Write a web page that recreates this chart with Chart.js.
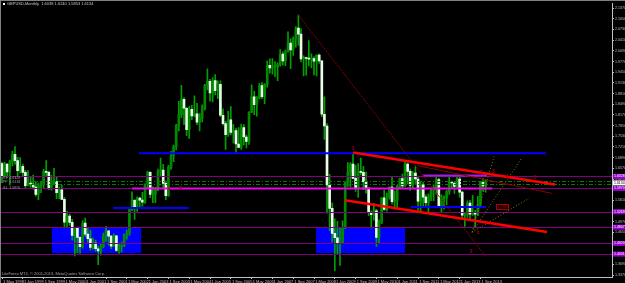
<!DOCTYPE html>
<html>
<head>
<meta charset="utf-8">
<script src="https://cdn.jsdelivr.net/npm/chart.js@4"></script>
<style>
  html, body { margin: 0; padding: 0; background: #000; }
  canvas { display: block; background: #000; }
</style>
</head>
<body>
<canvas id="myChart" width="625" height="283"></canvas>
<script>
// GBPUSD monthly, May 1998 .. Nov 2013 (month index 0 = May 1998)
const open = [
  1.6710,1.6330,1.6700,1.6460,1.6770,1.6990,1.6800,1.6500,
  1.6630,1.6450,1.6050,1.6120,1.6100,1.6010,1.5790,1.6050,1.6070,1.6470,1.6450,1.5980,
  1.6150,1.6170,1.5840,1.5930,1.5640,1.4960,1.5140,1.4950,1.4560,1.4780,1.4500,1.4220,
  1.4930,1.4600,1.4460,1.4200,1.4330,1.4160,1.4100,1.4220,1.4550,1.4700,1.4540,1.4240,
  1.4550,1.4110,1.4230,1.4250,1.4570,1.4620,1.5330,1.5610,1.5410,1.5680,1.5620,1.5560,
  1.6100,1.6450,1.5790,1.5800,1.5960,1.6470,1.6520,1.6120,1.5750,1.6600,1.6960,1.7220,
  1.7860,1.8180,1.8640,1.8370,1.7730,1.8340,1.8140,1.8200,1.7950,1.8080,1.8350,1.9060,
  1.9180,1.8830,1.9200,1.8900,1.9090,1.8160,1.7910,1.7580,1.8020,1.7650,1.7700,1.7300,
  1.7200,1.7790,1.7510,1.7380,1.8250,1.8710,1.8480,1.8680,1.9050,1.8720,1.9090,1.9660,
  1.9580,1.9620,1.9620,1.9680,1.9990,1.9790,2.0070,2.0320,2.0120,2.0440,2.0770,2.0590,
  1.9850,1.9880,1.9860,1.9840,1.9860,1.9780,1.9960,1.9790,1.8190,1.7840,1.6070,1.5370,
  1.4620,1.4490,1.4310,1.4340,1.4800,1.6150,1.6460,1.6700,1.6270,1.5980,1.6470,1.6450,
  1.6170,1.5980,1.5240,1.5180,1.5300,1.4500,1.4950,1.5690,1.5340,1.5710,1.6010,1.5570,
  1.5610,1.6030,1.6260,1.6040,1.6700,1.6480,1.6060,1.6430,1.6250,1.5590,1.6080,1.5710,
  1.5540,1.5730,1.5920,1.5990,1.6230,1.5420,1.5680,1.5680,1.5870,1.6150,1.6130,1.6030,
  1.6250,1.5860,1.5170,1.5190,1.5530,1.5200,1.5210,1.5200,1.5490,1.6180,1.6038
];
const high = [
  1.6760,1.6750,1.6710,1.6820,1.7080,1.7225,1.6900,1.6890,
  1.6700,1.6510,1.6500,1.6300,1.6370,1.6170,1.6130,1.6150,1.6540,1.6800,1.6490,1.6360,
  1.6570,1.6330,1.6020,1.6060,1.5700,1.5280,1.5200,1.5040,1.4780,1.4810,1.4520,1.5000,
  1.5080,1.4790,1.4720,1.4480,1.4420,1.4240,1.4310,1.4630,1.4830,1.4700,1.4560,1.4600,
  1.4560,1.4330,1.4360,1.4610,1.4720,1.5380,1.5870,1.5640,1.5720,1.5710,1.5850,1.6110,
  1.6480,1.6470,1.6020,1.6000,1.6550,1.6880,1.6690,1.6190,1.6660,1.7080,1.7270,1.7890,
  1.8580,1.9060,1.8690,1.8400,1.8430,1.8460,1.8740,1.8520,1.8210,1.8470,1.9090,1.9550,
  1.9240,1.9280,1.9380,1.9190,1.9190,1.8350,1.7980,1.8280,1.8420,1.7890,1.7780,1.7790,
  1.7900,1.7880,1.7570,1.8270,1.9070,1.8880,1.8720,1.9120,1.9140,1.9110,1.9790,1.9850,
  1.9860,1.9770,1.9730,2.0130,2.0060,2.0110,2.0660,2.0460,2.0510,2.0820,2.1161,2.0760,
  1.9940,1.9900,2.0400,2.0000,1.9920,1.9970,2.0000,1.9800,1.8710,1.7910,1.6390,1.5540,
  1.5060,1.4980,1.4780,1.5000,1.6170,1.6740,1.6740,1.7040,1.6670,1.6710,1.6880,1.6630,
  1.6460,1.5990,1.5300,1.5520,1.5340,1.5030,1.5690,1.5920,1.5830,1.6020,1.6300,1.5900,
  1.6060,1.6280,1.6400,1.6750,1.6740,1.6550,1.6470,1.6620,1.6340,1.6140,1.6160,1.5780,
  1.5810,1.5950,1.6060,1.6300,1.6280,1.5780,1.5750,1.5910,1.6310,1.6190,1.6130,1.6310,
  1.6380,1.5890,1.5240,1.5600,1.5610,1.5760,1.5310,1.5730,1.6180,1.6260,1.6240
];
const low = [
  1.6140,1.6320,1.6290,1.6070,1.6640,1.6690,1.6350,1.6430,
  1.6350,1.5990,1.6040,1.6000,1.5950,1.5740,1.5630,1.5840,1.5990,1.6350,1.5930,1.5920,
  1.6080,1.5660,1.5660,1.5640,1.4810,1.4790,1.4860,1.4420,1.3950,1.4040,1.4020,1.4180,
  1.4530,1.4350,1.4120,1.4150,1.4090,1.3685,1.3970,1.4190,1.4380,1.4270,1.4160,1.4230,
  1.4080,1.4020,1.4060,1.4220,1.4450,1.4560,1.5300,1.5040,1.5280,1.5360,1.5440,1.5520,
  1.5960,1.5690,1.5540,1.5540,1.5900,1.6350,1.5990,1.5630,1.5730,1.6540,1.6770,1.7120,
  1.7690,1.8090,1.7880,1.7550,1.7470,1.8030,1.8110,1.7880,1.7690,1.7960,1.8320,1.8920,
  1.8580,1.8560,1.8770,1.8660,1.8120,1.7860,1.7140,1.7530,1.7570,1.7330,1.7050,1.7180,
  1.7140,1.7270,1.7180,1.7290,1.8240,1.8180,1.8130,1.8650,1.8660,1.8510,1.9000,1.9420,
  1.9390,1.9320,1.9200,1.9630,1.9660,1.9650,2.0050,1.9560,1.9950,2.0200,2.0250,1.9760,
  1.9340,1.9360,1.9640,1.9580,1.9370,1.9340,1.9710,1.8120,1.7440,1.5230,1.4700,1.4360,
  1.3503,1.3990,1.3660,1.4330,1.4760,1.6030,1.6010,1.6260,1.5880,1.5700,1.6370,1.5930,
  1.5830,1.5150,1.4780,1.5020,1.4230,1.4330,1.4910,1.5310,1.5290,1.5650,1.5500,1.5350,
  1.5350,1.5960,1.5990,1.6030,1.6100,1.5910,1.5990,1.6120,1.5320,1.5270,1.5420,1.5410,
  1.5240,1.5600,1.5600,1.5800,1.5400,1.5270,1.5350,1.5480,1.5790,1.5970,1.5820,1.6000,
  1.5710,1.5090,1.4830,1.5100,1.5010,1.5160,1.4810,1.5150,1.5430,1.5890,1.5853
];
const close = [
  1.6330,1.6700,1.6460,1.6770,1.6990,1.6800,1.6500,1.6630,
  1.6450,1.6050,1.6120,1.6100,1.6010,1.5790,1.6050,1.6070,1.6470,1.6450,1.5980,1.6150,
  1.6170,1.5840,1.5930,1.5640,1.4960,1.5140,1.4950,1.4560,1.4780,1.4500,1.4220,1.4930,
  1.4600,1.4460,1.4200,1.4330,1.4160,1.4100,1.4220,1.4550,1.4700,1.4540,1.4240,1.4550,
  1.4110,1.4230,1.4250,1.4570,1.4620,1.5330,1.5610,1.5410,1.5680,1.5620,1.5560,1.6100,
  1.6450,1.5790,1.5800,1.5960,1.6470,1.6520,1.6120,1.5750,1.6600,1.6960,1.7220,1.7860,
  1.8180,1.8640,1.8370,1.7730,1.8340,1.8140,1.8200,1.7950,1.8080,1.8350,1.9060,1.9180,
  1.8830,1.9200,1.8900,1.9090,1.8160,1.7910,1.7580,1.8020,1.7650,1.7700,1.7300,1.7200,
  1.7790,1.7510,1.7380,1.8250,1.8710,1.8480,1.8680,1.9050,1.8720,1.9090,1.9660,1.9580,
  1.9620,1.9620,1.9680,1.9990,1.9790,2.0070,2.0320,2.0120,2.0440,2.0770,2.0590,1.9850,
  1.9880,1.9860,1.9840,1.9860,1.9780,1.9960,1.9790,1.8190,1.7840,1.6070,1.5370,1.4620,
  1.4490,1.4310,1.4340,1.4800,1.6150,1.6460,1.6700,1.6270,1.5980,1.6470,1.6450,1.6170,
  1.5980,1.5240,1.5180,1.5300,1.4500,1.4950,1.5690,1.5340,1.5710,1.6010,1.5570,1.5610,
  1.6030,1.6260,1.6040,1.6700,1.6480,1.6060,1.6430,1.6250,1.5590,1.6080,1.5710,1.5540,
  1.5730,1.5920,1.5990,1.6230,1.5420,1.5680,1.5680,1.5870,1.6150,1.6130,1.6030,1.6250,
  1.5860,1.5170,1.5190,1.5530,1.5200,1.5210,1.5200,1.5490,1.6180,1.6040,1.6134
];

// axis ticks
const xTickIdx = [0,8,16,24,32,40,48,56,64,72,80,88,96,104,112,120,128,136,144,152,160,168,176,184];
const xTickLabels = ['1 May 1998','1 Jan 1999','1 Sep 1999','1 May 2000','1 Jan 2001','1 Sep 2001',
  '1 May 2002','1 Jan 2003','1 Sep 2003','1 May 2004','1 Jan 2005','1 Sep 2005','1 May 2006',
  '1 Jan 2007','1 Sep 2007','1 May 2008','1 Jan 2009','1 Sep 2009','1 May 2010','1 Jan 2011',
  '1 Sep 2011','1 May 2012','1 Jan 2013','1 Sep 2013'];
const yTicks = [2.1370,2.1050,2.0730,2.0410,2.0090,1.9770,1.9450,1.9130,1.8810,1.8490,1.8170,
  1.7850,1.7530,1.7210,1.6890,1.6570,1.6250,1.5930,1.5610,1.5290,1.4970,1.4650,1.4330,1.4010,1.3690,1.3370];

// drawn objects (price levels and trend lines)
const purpleLevels = [1.6328, 1.5970, 1.5269, 1.4807, 1.4320, 1.4001];
const greenLevels = [1.6194, 1.6089];
const lastPrice = 1.6134;
const magentaLine = [50, 188.5, 1.5970];
const violetLine = [162, 186.5, 1.6358];
const blueLines = [[52.7, 209.2, 1.7024], [42.7, 71.9, 1.5382], [157.3, 186.2, 1.5412]];
const blueBoxes = [[19.2, 53.5, 1.4807, 1.4031], [120.8, 155, 1.4807, 1.4031]];
const redChannel = [[135, 1.7044, 212.7, 1.6089], [131.9, 1.5612, 209.6, 1.4666]];
const darkRedLines = [[114, 2.1161, 186.2, 1.3912, true], [159.6, 1.6656, 211.5, 1.5821, false]];
const fanOrigin = [180.8, 1.4657];
const fanEnds = [[189.2, 1.6925], [200, 1.6895], [202.7, 1.5672]];
const waveMarks = [[135, 1.716, '1'], [184.3, 1.6430, '3'], [189, 1.6460, '3'], [194.3, 1.6310, '4'],
  [205, 1.6290, '5'], [183.1, 1.4657, 'c'], [180.4, 1.4070, '2'], [64.2, 1.5960, 'a'], [68.8, 1.5990, 'b']];
const boxNote = [190, 1.5412, '1.5382'];
const leftNotes = [[1.6270, 'R1  1.6328'], [1.6160, 'PP  1.6134'], [1.5990, 'S1  1.5970']];

const bull = close.map((c, i) => c >= open[i]);
const candleIdx = close.map((c, i) => i);

const overlay = {
  id: 'overlay',
  beforeDatasetsDraw(chart) {
    const {ctx, chartArea: a, scales: {x, y}} = chart;
    ctx.save();
    ctx.beginPath(); ctx.rect(a.left, a.top, a.right - a.left, a.bottom - a.top); ctx.clip();
    ctx.fillStyle = '#0000ff';
    blueBoxes.forEach(b => {
      const x1 = x.getPixelForValue(b[0]), x2 = x.getPixelForValue(b[1]);
      const y1 = y.getPixelForValue(b[2]), y2 = y.getPixelForValue(b[3]);
      ctx.fillRect(x1, y1, x2 - x1, y2 - y1);
    });
    ctx.restore();
  },
  afterDatasetsDraw(chart) {
    const {ctx, chartArea: a, scales: {x, y}} = chart;
    const seg = (x1, v1, x2, v2) => {
      ctx.beginPath();
      ctx.moveTo(x.getPixelForValue(x1), y.getPixelForValue(v1));
      ctx.lineTo(x.getPixelForValue(x2), y.getPixelForValue(v2));
      ctx.stroke();
    };
    ctx.save();
    ctx.beginPath(); ctx.rect(a.left, a.top, a.right - a.left, a.bottom - a.top); ctx.clip();

    // horizontal levels
    ctx.strokeStyle = '#800080'; ctx.lineWidth = 1;
    purpleLevels.forEach(v => { const py = Math.round(y.getPixelForValue(v)) + 0.5;
      ctx.beginPath(); ctx.moveTo(a.left, py); ctx.lineTo(a.right, py); ctx.stroke(); });
    ctx.strokeStyle = '#008000'; ctx.setLineDash([4, 2, 1, 2]);
    greenLevels.forEach(v => { const py = Math.round(y.getPixelForValue(v)) + 0.5;
      ctx.beginPath(); ctx.moveTo(a.left + 30, py); ctx.lineTo(a.right, py); ctx.stroke(); });
    ctx.setLineDash([]);

    ctx.strokeStyle = '#ee00ee'; ctx.lineWidth = 2;
    seg(magentaLine[0], magentaLine[2], magentaLine[1], magentaLine[2]);
    ctx.strokeStyle = '#a020e0';
    seg(violetLine[0], violetLine[2], violetLine[1], violetLine[2]);
    ctx.strokeStyle = '#0000ff';
    blueLines.forEach(l => seg(l[0], l[2], l[1], l[2]));

    // trend lines
    ctx.strokeStyle = '#8b0000'; ctx.lineWidth = 1;
    darkRedLines.forEach(l => { ctx.setLineDash(l[4] ? [2, 1] : []); seg(l[0], l[1], l[2], l[3]); });
    ctx.setLineDash([1, 2]); ctx.strokeStyle = '#808000';
    fanEnds.forEach(e => seg(fanOrigin[0], fanOrigin[1], e[0], e[1]));
    ctx.setLineDash([]);
    ctx.strokeStyle = '#ff0000'; ctx.lineWidth = 2.5;
    redChannel.forEach(l => seg(l[0], l[1], l[2], l[3]));

    // wave marks
    ctx.fillStyle = '#b00000'; ctx.font = 'bold 5px "Liberation Sans"';
    ctx.textAlign = 'center'; ctx.textBaseline = 'middle';
    waveMarks.forEach(m => ctx.fillText(m[2], x.getPixelForValue(m[0]), y.getPixelForValue(m[1])));
    const bx = x.getPixelForValue(boxNote[0]), by = y.getPixelForValue(boxNote[1]);
    ctx.strokeStyle = '#b00000'; ctx.lineWidth = 1;
    ctx.strokeRect(Math.round(bx) + 0.5, Math.round(by) - 2.5, 12, 5);
    ctx.font = '3.5px "Liberation Sans"'; ctx.textAlign = 'left';
    ctx.fillText(boxNote[2], bx + 1.5, by);

    // left notes
    ctx.fillStyle = '#a0a0a0'; ctx.font = '3.5px "Liberation Sans"';
    leftNotes.forEach(n => ctx.fillText(n[1], a.left + 2, y.getPixelForValue(n[0])));
    ctx.restore();
  },
  afterDraw(chart) {
    const {ctx, chartArea: a, scales: {y}} = chart;
    ctx.save();
    // frame
    ctx.fillStyle = '#808080';
    ctx.fillRect(0, 0, chart.width, 1);
    ctx.fillRect(0, 0, 1, chart.height);
    // price boxes on the right axis
    ctx.font = '3.5px "Liberation Sans"'; ctx.textBaseline = 'middle'; ctx.textAlign = 'left';
    purpleLevels.forEach(v => {
      const py = y.getPixelForValue(v);
      ctx.fillStyle = '#9a00d0'; ctx.fillRect(a.right + 1, py - 2.5, 13, 5);
      ctx.fillStyle = '#ffffff'; ctx.fillText(v.toFixed(4), a.right + 2, py);
    });
    const lp = y.getPixelForValue(lastPrice);
    ctx.fillStyle = '#ffffff'; ctx.fillRect(a.right + 1, lp - 2.5, 13, 5);
    ctx.fillStyle = '#000000'; ctx.fillText(lastPrice.toFixed(4), a.right + 2, lp);
    // header and footer text
    ctx.fillStyle = '#ffffff'; ctx.fillRect(3, 3, 2, 2);
    ctx.fillStyle = '#c8c8c8'; ctx.font = '4px "Liberation Sans"';
    ctx.fillText('GBPUSD,Monthly  1.6038 1.6240 1.5853 1.6134', 7, 4);
    ctx.fillStyle = '#a0a0a0';
    ctx.fillText('LiteForex MT4, \u00a9 2001-2013, MetaQuotes Software Corp.', 2, 274);
    ctx.restore();
  }
};

const data = {
  datasets: [{
    label: 'body',
    order: 0,
    data: candleIdx.map(i => ({x: i, y: [Math.min(open[i], close[i]), Math.max(open[i], close[i])]})),
    backgroundColor: bull.map(b => b ? '#008a00' : '#e6ffe6'),
    barThickness: 2,
    minBarLength: 1,
    grouped: false
  }, {
    label: 'wick',
    order: 1,
    data: candleIdx.map(i => ({x: i, y: [low[i], high[i]]})),
    backgroundColor: '#00a000',
    barThickness: 1,
    grouped: false
  }]
};

const config = {
  type: 'bar',
  data,
  options: {
    responsive: false,
    animation: false,
    devicePixelRatio: 1,
    layout: { padding: { top: 2, left: 1, right: 0, bottom: 0 } },
    plugins: { legend: { display: false }, tooltip: { enabled: false } },
    scales: {
      x: {
        type: 'linear', position: 'bottom', min: -0.385, max: 234.6, offset: false,
        afterBuildTicks: s => { s.ticks = xTickIdx.map(v => ({value: v})); },
        afterFit: s => { s.height = 6; s.paddingLeft = 0; s.paddingRight = 0; },
        ticks: { autoSkip: false, maxRotation: 0, align: 'start', color: '#c0c0c0',
          font: { size: 4, family: 'Liberation Sans' }, padding: 0,
          callback: (v, i) => ' ' + xTickLabels[i] },
        grid: { drawOnChartArea: false, offset: false, tickLength: 2, color: '#c0c0c0' },
        border: { color: '#c0c0c0' }
      },
      y: {
        type: 'linear', position: 'right', min: 1.3315, max: 2.1519,
        afterBuildTicks: s => { s.ticks = yTicks.map(v => ({value: v})); },
        afterFit: s => { s.width = 13; },
        ticks: { color: '#c0c0c0', font: { size: 3.6, family: 'Liberation Sans' }, padding: 1,
          callback: v => v.toFixed(4) },
        grid: { drawOnChartArea: false, tickLength: 2, color: '#c0c0c0' },
        border: { color: '#c0c0c0' }
      }
    }
  },
  plugins: [overlay]
};

const ctx = document.getElementById('myChart');
const myChart = new Chart(ctx, config);
</script>
</body>
</html>
